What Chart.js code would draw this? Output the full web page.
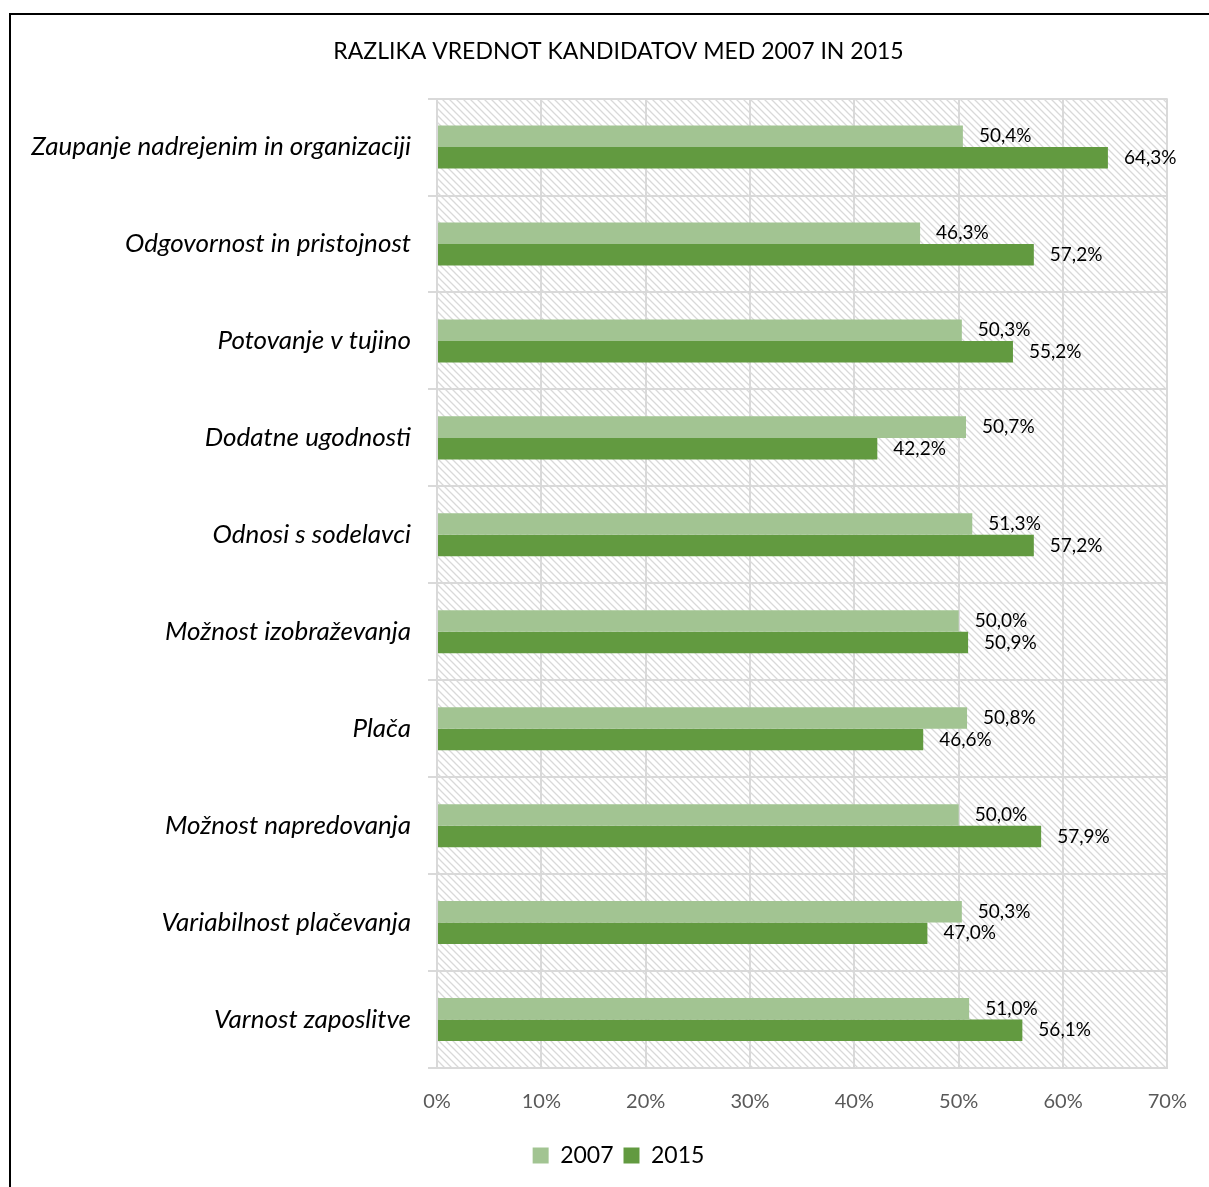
<!DOCTYPE html>
<html>
<head>
<meta charset="utf-8">
<script src="https://cdn.jsdelivr.net/npm/chart.js@4.4.1/dist/chart.umd.min.js"></script>
<style>
  body { margin: 0; background: #fff; overflow: hidden; }
  #frame { position: absolute; left: 9px; top: 13px; width: 1400px; height: 1400px; border: 2px solid #000; pointer-events: none; }
  canvas { position: absolute; left: 0; top: 0; }
</style>
</head>
<body>
<canvas id="chart" width="1209" height="1187"></canvas>
<div id="frame"></div>
<script>
// DATA
const categories = [
  "Zaupanje nadrejenim in organizaciji",
  "Odgovornost in pristojnost",
  "Potovanje v tujino",
  "Dodatne ugodnosti",
  "Odnosi s sodelavci",
  "Možnost izobraževanja",
  "Plača",
  "Možnost napredovanja",
  "Variabilnost plačevanja",
  "Varnost zaposlitve"
];
const values_2007 = [50.4, 46.3, 50.3, 50.7, 51.3, 50.0, 50.8, 50.0, 50.3, 51.0];
const values_2015 = [64.3, 57.2, 55.2, 42.2, 57.2, 50.9, 46.6, 57.9, 47.0, 56.1];
const series_names = ["2007", "2015"];
const x_ticks = [0, 10, 20, 30, 40, 50, 60, 70];

const FONT = "Lato, 'Open Sans', sans-serif";

function fmt(v) {
  return v.toFixed(1).replace(".", ",") + "%";
}

// hatched background pattern
function makePattern(ctx) {
  const size = 7;
  const p = document.createElement("canvas");
  p.width = size; p.height = size;
  const pc = p.getContext("2d");
  pc.strokeStyle = "#d9d9d9";
  pc.lineWidth = 1.3;
  pc.beginPath();
  pc.moveTo(0, 0); pc.lineTo(size, size);
  pc.moveTo(-1, size - 1); pc.lineTo(1, size + 1);
  pc.moveTo(size - 1, -1); pc.lineTo(size + 1, 1);
  pc.stroke();
  return ctx.createPattern(p, "repeat");
}

const hatchPlugin = {
  id: "hatch",
  beforeDraw(chart) {
    const {ctx, chartArea: a} = chart;
    ctx.save();
    ctx.fillStyle = makePattern(ctx);
    ctx.fillRect(a.left, a.top, a.right - a.left, a.bottom - a.top);
    ctx.restore();
  }
};

const labelPlugin = {
  id: "barLabels",
  afterDatasetsDraw(chart) {
    const ctx = chart.ctx;
    ctx.save();
    ctx.font = "19px " + FONT;
    ctx.fillStyle = "#000";
    ctx.textAlign = "left";
    ctx.textBaseline = "middle";
    chart.data.datasets.forEach((ds, i) => {
      chart.getDatasetMeta(i).data.forEach((bar, j) => {
        ctx.fillText(fmt(ds.data[j]), bar.x + 16, bar.y);
      });
    });
    ctx.restore();
  }
};

const ctx = document.getElementById("chart").getContext("2d");

new Chart(ctx, {
  type: "bar",
  data: {
    labels: categories,
    datasets: [
      {
        label: series_names[0],
        data: values_2007,
        backgroundColor: "#a2c492",
        categoryPercentage: 0.444,
        barPercentage: 1
      },
      {
        label: series_names[1],
        data: values_2015,
        backgroundColor: "#629a40",
        categoryPercentage: 0.444,
        barPercentage: 1
      }
    ]
  },
  options: {
    indexAxis: "y",
    responsive: false,
    devicePixelRatio: 1,
    animation: false,
    layout: { padding: { left: 28, right: 0, top: 0, bottom: 10 } },
    scales: {
      x: {
        min: 0,
        max: 70,
        afterBuildTicks(scale) {
          scale.ticks = x_ticks.map(v => ({ value: v }));
        },
        afterFit(scale) { scale.height = 66; },
        grid: { color: "#d9d9d9", lineWidth: 2, drawTicks: false },
        border: { color: "#d9d9d9", width: 2 },
        ticks: {
          padding: 22,
          color: "#595959",
          font: { family: FONT, size: 20 },
          callback: v => v + "%"
        }
      },
      y: {
        afterFit(scale) { scale.width = 409; },
        grid: { color: "#d9d9d9", lineWidth: 2, tickLength: 9, offset: true },
        border: { color: "#d9d9d9", width: 2 },
        ticks: {
          padding: 17,
          color: "#000",
          font: { family: FONT, size: 26, style: "italic" }
        }
      },
      // empty spacer on the right so the plot ends where the reference does
      spacer: {
        type: "category",
        position: "right",
        afterFit(scale) { scale.width = 38; },
        grid: { display: false },
        border: { display: false },
        ticks: { display: false }
      }
    },
    plugins: {
      title: {
        display: true,
        text: "RAZLIKA VREDNOT KANDIDATOV MED 2007 IN 2015",
        color: "#000",
        font: { family: FONT, size: 23, weight: "normal" },
        padding: { top: 38, bottom: 33 }
      },
      legend: {
        position: "bottom",
        labels: {
          color: "#000",
          font: { family: FONT, size: 23 },
          boxWidth: 16,
          boxHeight: 16,
          padding: 10
        }
      },
      tooltip: { enabled: false }
    }
  },
  plugins: [hatchPlugin, labelPlugin]
});
</script>
</body>
</html>
